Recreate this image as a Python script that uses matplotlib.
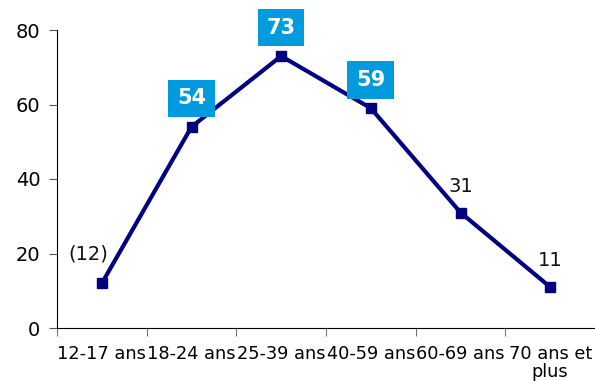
import numpy as np
import matplotlib.pyplot as plt

categories = ["12-17 ans", "18-24 ans", "25-39 ans", "40-59 ans", "60-69 ans", "70 ans et\nplus"]
values = [12, 54, 73, 59, 31, 11]
labels = ["(12)", "54", "73", "59", "31", "11"]
boxed = [False, True, True, True, False, False]

navy = "#000080"
blue = "#009ADE"

fig = plt.figure(figsize=(5.95, 3.81), dpi=100)
ax = fig.add_axes([57/595, 53/381, 538/595, 298/381])
x = np.arange(len(values))
ax.plot(x, values, color=navy, lw=3, marker="s", ms=7, clip_on=False)

for i, (v, lab, b) in enumerate(zip(values, labels, boxed)):
    if b:
        ax.annotate(lab, (i, v), xytext=(0, 20.5), textcoords="offset points",
                    ha="center", va="center", color="white", fontsize=15, fontweight="bold",
                    bbox=dict(boxstyle="square,pad=0.42", fc=blue, ec="none"))
    elif i == 0:
        ax.annotate(lab, (i, v), xytext=(-10, 21), textcoords="offset points",
                    ha="center", va="center", color="#111111", fontsize=14)
    else:
        ax.annotate(lab, (i, v), xytext=(0, 19), textcoords="offset points",
                    ha="center", va="center", color="#111111", fontsize=14)

ax.set_xlim(-0.5, len(values) - 0.5)
ax.set_ylim(0, 80)
ax.set_yticks([0, 20, 40, 60, 80])
ax.set_xticks(x)
ax.set_xticklabels(categories, fontsize=12.8, linespacing=1.0)
ax.set_xticks(np.arange(len(values) + 1) - 0.5, minor=True)
ax.tick_params(axis="x", which="major", length=0, pad=12)
ax.tick_params(axis="x", which="minor", length=6, color="#555555")
ax.tick_params(axis="y", labelsize=14, length=6, color="#555555", pad=6)
ax.spines["top"].set_visible(False)
ax.spines["right"].set_visible(False)

plt.savefig("out.png", dpi=100)
